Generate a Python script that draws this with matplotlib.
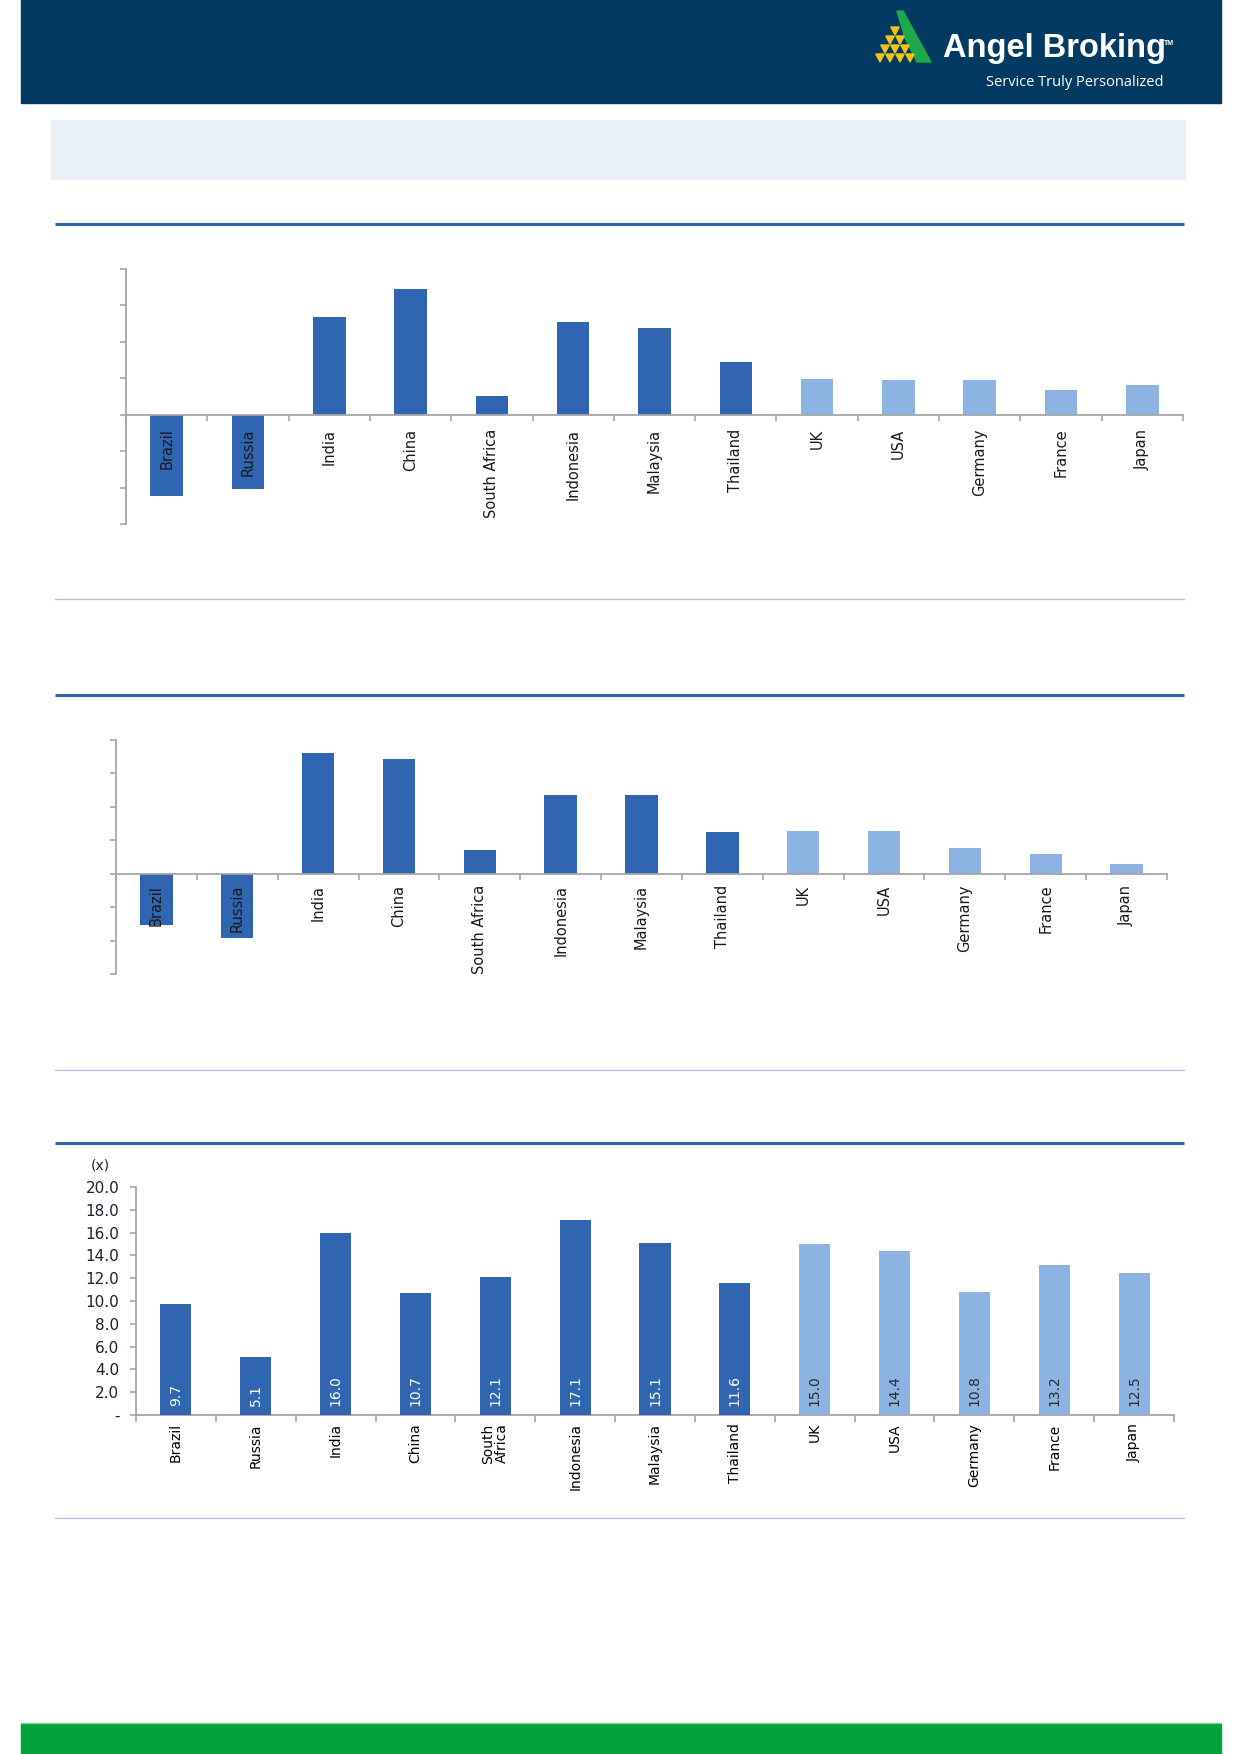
import matplotlib
matplotlib.use("Agg")
import matplotlib.pyplot as plt
from matplotlib.patches import Rectangle, Polygon
import numpy as np

W, H = 1240, 1754

countries = ["Brazil", "Russia", "India", "China", "South Africa", "Indonesia",
             "Malaysia", "Thailand", "UK", "USA", "Germany", "France", "Japan"]
labels_pe = ["Brazil", "Russia", "India", "China", "South\nAfrica", "Indonesia",
             "Malaysia", "Thailand", "UK", "USA", "Germany", "France", "Japan"]

# chart 1 and 2 have no value scale printed; values read off in relative units
chart1_vals = [-11.1, -10.2, 13.4, 17.3, 2.5, 12.7, 11.9, 7.3, 4.9, 4.7, 4.7, 3.4, 4.1]
chart2_vals = [-7.7, -9.6, 18.1, 17.2, 3.6, 11.8, 11.8, 6.2, 6.4, 6.4, 3.9, 2.9, 1.5]
# chart 3: P/E (x)
pe_vals = [9.7, 5.1, 16.0, 10.7, 12.1, 17.1, 15.1, 11.6, 15.0, 14.4, 10.8, 13.2, 12.5]

n_emerging = 8
dark = "#2F65B1"
light = "#8DB3E2"
colors = [dark] * n_emerging + [light] * (len(countries) - n_emerging)
axis_grey = "#A6A6A6"


def box(x0, y0, x1, y1):
    # pixel box (top-left origin) -> figure fraction
    return [x0 / W, 1 - y1 / H, (x1 - x0) / W, (y1 - y0) / H]


fig = plt.figure(figsize=(W / 100, H / 100), dpi=100)

# page decoration layer
bg = fig.add_axes([0, 0, 1, 1], zorder=0)
bg.set_xlim(0, W)
bg.set_ylim(H, 0)
bg.axis("off")

bg.add_patch(Rectangle((21, 0), 1200, 103, color="#033A62"))
bg.add_patch(Rectangle((51, 120), 1134, 59, color="#EAF0F8"))
bg.add_patch(Rectangle((21, 1724), 1200, 30, color="#00A03A"))
bg.plot([21, 1221], [1723, 1723], color="#7FCF9C", lw=1)

# logo: green leg + yellow triangles
bg.add_patch(Polygon([(897, 11), (903, 11), (931, 62), (917, 62), (905, 38)],
                     closed=True, color="#1DA84A"))
tw, th = 10, 8
for r in range(4):
    top = 27 + r * 9
    for k in range(r + 1):
        cx = 895 - r * tw / 2 + k * tw
        bg.add_patch(Polygon([(cx - tw / 2 + 0.8, top), (cx + tw / 2 - 0.8, top), (cx, top + th)],
                             closed=True, color="#F2C318"))
bg.text(943, 57, "Angel Broking", color="white", fontsize=23.5, fontweight="bold",
        family="Liberation Sans", va="baseline", ha="left")
bg.text(1164, 45, "TM", color="white", fontsize=5, fontweight="bold",
        family="Liberation Sans", va="baseline", ha="left")
bg.text(986, 86, "Service Truly Personalized", color="white", fontsize=10.5,
        family="Open Sans", va="baseline", ha="left")

# section rules
for y in [224, 695, 1143]:
    bg.plot([55, 1184], [y, y], color="#2E64AE", lw=2.2, solid_capstyle="butt")
for y in [599, 1070, 1518]:
    bg.plot([55, 1184], [y, y], color="#AFC0D8", lw=0.9)

x = np.arange(len(countries))


def growth_panel(rect, vals, pad):
    ax = fig.add_axes(rect, zorder=2)
    ax.patch.set_alpha(0)
    ax.bar(x, vals, width=0.4, color=colors, zorder=1)
    ax.set_xlim(-0.5, len(countries) - 0.5)
    ax.set_ylim(-15, 20)
    ax.set_yticks(np.arange(-15, 21, 5))
    ax.set_yticklabels([])
    ax.spines["bottom"].set_position(("data", 0))
    for s in ["top", "right"]:
        ax.spines[s].set_visible(False)
    for s in ["left", "bottom"]:
        ax.spines[s].set_color(axis_grey)
        ax.spines[s].set_linewidth(1.3)
    ax.set_xticks(x)
    ax.set_xticklabels(countries, rotation=90, fontsize=10.5, family="DejaVu Sans",
                       color="#1A1A1A")
    ax.set_xticks(np.arange(-0.5, len(countries), 1), minor=True)
    ax.tick_params(axis="x", which="major", length=0, pad=pad)
    ax.tick_params(axis="x", which="minor", length=4, color=axis_grey, width=1.2)
    ax.tick_params(axis="y", length=4, color=axis_grey, width=1.2)
    ax.xaxis.set_zorder(5)
    return ax


growth_panel(box(126, 269, 1183, 524), chart1_vals, 10)
growth_panel(box(116, 740, 1167, 974), chart2_vals, 8)

# chart 3: P/E
ax3 = fig.add_axes(box(136, 1187, 1174, 1415), zorder=2)
ax3.patch.set_alpha(0)
ax3.bar(x, pe_vals, width=0.39, color=colors, zorder=3)
ax3.set_xlim(-0.5, len(countries) - 0.5)
ax3.set_ylim(0, 20)
yt = np.arange(0, 20.1, 2)
ax3.set_yticks(yt)
ax3.set_yticklabels(["-"] + ["%.1f" % v for v in yt[1:]], fontsize=11,
                    family="DejaVu Sans", color="#1F1F2F")
for s in ["top", "right"]:
    ax3.spines[s].set_visible(False)
for s in ["left", "bottom"]:
    ax3.spines[s].set_color(axis_grey)
    ax3.spines[s].set_linewidth(1.3)
ax3.set_xticks(x)
ax3.set_xticklabels(labels_pe, rotation=90, fontsize=10, family="DejaVu Sans",
                    color="black", linespacing=0.95)
ax3.set_xticks(np.arange(-0.5, len(countries), 1), minor=True)
ax3.tick_params(axis="x", which="major", length=0, pad=6)
ax3.tick_params(axis="x", which="minor", length=5, color=axis_grey, width=1.2)
ax3.tick_params(axis="y", length=4, color=axis_grey, width=1.2, pad=8)
for i, v in enumerate(pe_vals):
    ax3.text(i, 0.8, "%.1f" % v, rotation=90, ha="center", va="bottom", fontsize=10,
             family="DejaVu Sans", color="white" if i < n_emerging else "#2A2A2A", zorder=4)
ax3.text(-0.83, 21.9, "(x)", ha="right", va="center",
         fontsize=10, family="DejaVu Sans", color="#1F1F2F")

fig.savefig("out.png", dpi=100)
